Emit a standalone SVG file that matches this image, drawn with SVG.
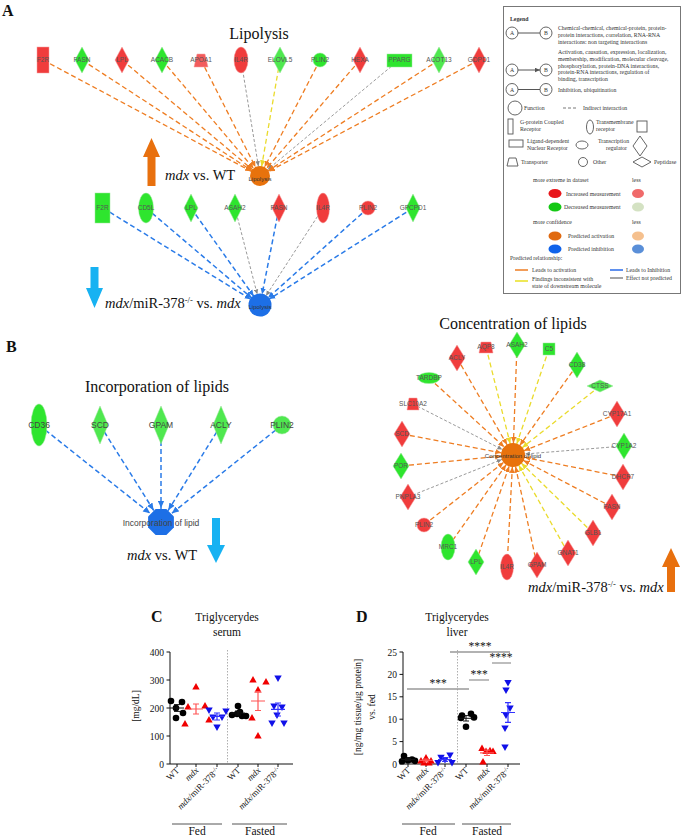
<svg xmlns="http://www.w3.org/2000/svg" xmlns:xlink="http://www.w3.org/1999/xlink" width="685" height="837" viewBox="0 0 685 837">
<style>
.serif{font-family:"Liberation Serif","Times New Roman",serif;fill:#111}
.pl{font-family:"Liberation Serif",serif;font-weight:bold;font-size:16px;fill:#111}
.ttl{font-family:"Liberation Serif",serif;font-size:16px;fill:#111}
.cmp{font-family:"Liberation Serif",serif;font-size:14.5px;fill:#111}
.nl{font-family:"Liberation Sans",Arial,sans-serif;font-size:6.5px;fill:#555;text-anchor:middle}
.nlb{font-family:"Liberation Sans",Arial,sans-serif;font-size:8.5px;fill:#444;text-anchor:middle}
.hl{font-family:"Liberation Sans",Arial,sans-serif;font-size:6px;fill:#333;text-anchor:middle}
.red{fill:#f03c3c;stroke:#f6a0a0;stroke-width:0.5}
.red2{fill:#f25c5c;stroke:#f6a0a0;stroke-width:0.5}
.grn{fill:#2ee52e;stroke:#9be89b;stroke-width:0.5}
.grn2{fill:#4fe84f;stroke:#9be89b;stroke-width:0.5}
.eo{stroke:#ee7d22;stroke-width:1.3;stroke-dasharray:5 3;fill:none}
.ey{stroke:#eadb2c;stroke-width:1.3;stroke-dasharray:5 3;fill:none}
.eg{stroke:#9a9a9a;stroke-width:1;stroke-dasharray:3 2;fill:none}
.eb{stroke:#2a7be8;stroke-width:1.5;stroke-dasharray:5 3;fill:none}
.lg{font-family:"Liberation Serif",serif;font-size:5.8px;fill:#333}
.lgs{fill:#fff;stroke:#555;stroke-width:0.9}
.ax{stroke:#111;stroke-width:1;fill:none}
.tk{font-family:"Liberation Serif",serif;font-size:9.5px;fill:#111}
.xl{font-family:"Liberation Serif",serif;font-size:9px;fill:#111;text-anchor:end}
.ct{font-family:"Liberation Serif",serif;font-size:11.5px;fill:#111;text-anchor:middle}
.grp{stroke:#555;stroke-width:1}
.sig{stroke:#999;stroke-width:1.3}
</style>
<defs>
<marker id="aO10" viewBox="0 0 10 10" markerUnits="userSpaceOnUse" markerWidth="6" markerHeight="6" refX="26.7" refY="5" orient="auto"><path d="M0,0.5L10,5L0,9.5z" fill="#ee7d22"/></marker>
<marker id="aY10" viewBox="0 0 10 10" markerUnits="userSpaceOnUse" markerWidth="6" markerHeight="6" refX="26.7" refY="5" orient="auto"><path d="M0,0.5L10,5L0,9.5z" fill="#eadb2c"/></marker>
<marker id="aG10" viewBox="0 0 10 10" markerUnits="userSpaceOnUse" markerWidth="5" markerHeight="5" refX="30" refY="5" orient="auto"><path d="M0,0.5L10,5L0,9.5z" fill="#888"/></marker>
<marker id="aB11" viewBox="0 0 10 10" markerUnits="userSpaceOnUse" markerWidth="6" markerHeight="6" refX="28.3" refY="5" orient="auto"><path d="M0,0.5L10,5L0,9.5z" fill="#2a7be8"/></marker>
<marker id="aG11" viewBox="0 0 10 10" markerUnits="userSpaceOnUse" markerWidth="5" markerHeight="5" refX="32" refY="5" orient="auto"><path d="M0,0.5L10,5L0,9.5z" fill="#888"/></marker>
<marker id="aB14" viewBox="0 0 10 10" markerUnits="userSpaceOnUse" markerWidth="7" markerHeight="7" refX="30" refY="5" orient="auto"><path d="M0,0.5L10,5L0,9.5z" fill="#2a7be8"/></marker>
<marker id="aO12" viewBox="0 0 10 10" markerUnits="userSpaceOnUse" markerWidth="6" markerHeight="6" refX="30" refY="5" orient="auto"><path d="M0,0.5L10,5L0,9.5z" fill="#ee7d22"/></marker>
<marker id="aY12" viewBox="0 0 10 10" markerUnits="userSpaceOnUse" markerWidth="6" markerHeight="6" refX="30" refY="5" orient="auto"><path d="M0,0.5L10,5L0,9.5z" fill="#eadb2c"/></marker>
<marker id="aG12" viewBox="0 0 10 10" markerUnits="userSpaceOnUse" markerWidth="5" markerHeight="5" refX="34" refY="5" orient="auto"><path d="M0,0.5L10,5L0,9.5z" fill="#888"/></marker>
<marker id="lgA" viewBox="0 0 10 10" markerUnits="userSpaceOnUse" markerWidth="5" markerHeight="5" refX="10" refY="5" orient="auto"><path d="M0,0.5L10,5L0,9.5z" fill="#555"/></marker>
<circle id="dot" r="3.3"/>
<path id="tu" d="M0,-3.9L3.7,2.6L-3.7,2.6Z"/>
<path id="td" d="M0,3.9L3.7,-2.6L-3.7,-2.6Z"/>
</defs>
<rect width="685" height="837" fill="#fff"/>

<!-- Panel labels and titles -->
<text class="pl" x="2" y="16">A</text>
<text class="pl" x="6" y="352">B</text>
<text class="pl" x="151" y="622" font-size="17">C</text>
<text class="pl" x="356" y="622" font-size="17">D</text>
<text class="ttl" x="259" y="39" text-anchor="middle">Lipolysis</text>
<text class="ttl" x="157" y="392" text-anchor="middle" font-size="16.5">Incorporation of lipids</text>
<text class="ttl" x="513" y="329" text-anchor="middle">Concentration of lipids</text>

<!-- Big arrows & comparison labels -->
<path d="M143,157L151.5,138L160,157L155.5,157L155.5,186L147.5,186L147.5,157Z" fill="#e8700e"/>
<text class="cmp" x="165" y="180"><tspan font-style="italic">mdx</tspan> vs. WT</text>
<path d="M90.5,267L98.5,267L98.5,288L103,288L94.5,308L86,288L90.5,288Z" fill="#17b2f2"/>
<text class="cmp" x="105" y="308"><tspan font-style="italic">mdx</tspan>/miR-378<tspan baseline-shift="super" font-size="8.5">-/-</tspan> vs. <tspan font-style="italic">mdx</tspan></text>
<path d="M212,518L220,518L220,545L225,545L216,563L207,545L212,545Z" fill="#17b2f2"/>
<text class="cmp" x="127" y="560"><tspan font-style="italic">mdx</tspan> vs. WT</text>
<path d="M662,567L671,548L680,567L675,567L675,592L667,592L667,567Z" fill="#e8700e"/>
<text class="cmp" x="528" y="592"><tspan font-style="italic">mdx</tspan>/miR-378<tspan baseline-shift="super" font-size="8.5">-/-</tspan> vs. <tspan font-style="italic">mdx</tspan></text>

<!-- Connectors -->
<g id="connectors">
 <g id="edges-lipolysis-mdx">
  <line class="eo" x1="43" y1="60" x2="260" y2="176" marker-end="url(#aO10)"/>
  <line class="eo" x1="82" y1="60" x2="260" y2="176" marker-end="url(#aO10)"/>
  <line class="eo" x1="122" y1="60" x2="260" y2="176" marker-end="url(#aO10)"/>
  <line class="eo" x1="162" y1="60" x2="260" y2="176" marker-end="url(#aO10)"/>
  <line class="eo" x1="201" y1="60" x2="260" y2="176" marker-end="url(#aO10)"/>
  <line class="eg" x1="241" y1="60" x2="260" y2="176" marker-end="url(#aG10)"/>
  <line class="ey" x1="280" y1="60" x2="260" y2="176" marker-end="url(#aY10)"/>
  <line class="eo" x1="320" y1="60" x2="260" y2="176" marker-end="url(#aO10)"/>
  <line class="eo" x1="360" y1="60" x2="260" y2="176" marker-end="url(#aO10)"/>
  <line class="eg" x1="399" y1="60" x2="260" y2="176" marker-end="url(#aG10)"/>
  <line class="eo" x1="439" y1="60" x2="260" y2="176" marker-end="url(#aO10)"/>
  <line class="eo" x1="479" y1="60" x2="260" y2="176" marker-end="url(#aO10)"/>
 </g>
 <g id="edges-lipolysis-mir">
  <line class="eb" x1="103" y1="208" x2="260" y2="305" marker-end="url(#aB11)"/>
  <line class="eb" x1="146" y1="208" x2="260" y2="305" marker-end="url(#aB11)"/>
  <line class="eb" x1="191" y1="208" x2="260" y2="305" marker-end="url(#aB11)"/>
  <line class="eg" x1="235" y1="208" x2="260" y2="305" marker-end="url(#aG11)"/>
  <line class="eb" x1="279" y1="208" x2="260" y2="305" marker-end="url(#aB11)"/>
  <line class="eg" x1="323" y1="208" x2="260" y2="305" marker-end="url(#aG11)"/>
  <line class="eb" x1="368" y1="208" x2="260" y2="305" marker-end="url(#aB11)"/>
  <line class="eb" x1="413" y1="208" x2="260" y2="305" marker-end="url(#aB11)"/>
 </g>
 <g id="edges-incorporation">
  <line class="eb" x1="39" y1="425" x2="161" y2="522" marker-end="url(#aB14)"/>
  <line class="eb" x1="100" y1="425" x2="161" y2="522" marker-end="url(#aB14)"/>
  <line class="eb" x1="161" y1="425" x2="161" y2="522" marker-end="url(#aB14)"/>
  <line class="eb" x1="221" y1="425" x2="161" y2="522" marker-end="url(#aB14)"/>
  <line class="eb" x1="282" y1="425" x2="161" y2="522" marker-end="url(#aB14)"/>
 </g>
 <g id="edges-concentration">
  <line class="eo" x1="517" y1="345" x2="513" y2="455" marker-end="url(#aO12)"/>
  <line class="ey" x1="486" y1="347" x2="513" y2="455" marker-end="url(#aY12)"/>
  <line class="eo" x1="457" y1="358" x2="513" y2="455" marker-end="url(#aO12)"/>
  <line class="ey" x1="549" y1="349" x2="513" y2="455" marker-end="url(#aY12)"/>
  <line class="eo" x1="577" y1="365" x2="513" y2="455" marker-end="url(#aO12)"/>
  <line class="eo" x1="429" y1="378" x2="513" y2="455" marker-end="url(#aO12)"/>
  <line class="ey" x1="600" y1="386" x2="513" y2="455" marker-end="url(#aY12)"/>
  <line class="eg" x1="413" y1="404" x2="513" y2="455" marker-end="url(#aG12)"/>
  <line class="eo" x1="617" y1="414" x2="513" y2="455" marker-end="url(#aO12)"/>
  <line class="eo" x1="402" y1="434" x2="513" y2="455" marker-end="url(#aO12)"/>
  <line class="eg" x1="624" y1="446" x2="513" y2="455" marker-end="url(#aG12)"/>
  <line class="eo" x1="401" y1="466" x2="513" y2="455" marker-end="url(#aO12)"/>
  <line class="eo" x1="623" y1="477" x2="513" y2="455" marker-end="url(#aO12)"/>
  <line class="eg" x1="408" y1="497" x2="513" y2="455" marker-end="url(#aG12)"/>
  <line class="eo" x1="612" y1="507" x2="513" y2="455" marker-end="url(#aO12)"/>
  <line class="eo" x1="424" y1="525" x2="513" y2="455" marker-end="url(#aO12)"/>
  <line class="ey" x1="593" y1="533" x2="513" y2="455" marker-end="url(#aY12)"/>
  <line class="eo" x1="448" y1="547" x2="513" y2="455" marker-end="url(#aO12)"/>
  <line class="ey" x1="568" y1="553" x2="513" y2="455" marker-end="url(#aY12)"/>
  <line class="eo" x1="476" y1="562" x2="513" y2="455" marker-end="url(#aO12)"/>
  <line class="eo" x1="537" y1="565" x2="513" y2="455" marker-end="url(#aO12)"/>
  <line class="eo" x1="507" y1="567" x2="513" y2="455" marker-end="url(#aO12)"/>
 </g>
</g>

<!-- Lipolysis (mdx vs WT) nodes -->
<g id="a1-F2R"><rect class="red" x="37" y="47" width="12" height="26"/><text class="nl" x="43" y="62">F2R</text></g>
<g id="a1-FASN"><path class="grn" d="M82,47L89,60L82,73L75,60Z"/><text class="nl" x="82" y="62">FASN</text></g>
<g id="a1-LPL"><path class="red" d="M122,47L129,60L122,73L115,60Z"/><text class="nl" x="122" y="62">LPL</text></g>
<g id="a1-ACACB"><path class="grn" d="M162,47L169,60L162,73L155,60Z"/><text class="nl" x="162" y="62">ACACB</text></g>
<g id="a1-APOA1"><path class="red2" d="M197,54L205,54L208,67L194,67Z"/><text class="nl" x="201" y="62">APOA1</text></g>
<g id="a1-IL4R"><ellipse class="red" cx="241" cy="60" rx="7" ry="13"/><text class="nl" x="241" y="62">IL4R</text></g>
<g id="a1-ELOVL5"><path class="grn2" d="M280,47L287,60L280,73L273,60Z"/><text class="nl" x="280" y="62">ELOVL5</text></g>
<g id="a1-PLIN2"><circle class="grn" cx="320" cy="60" r="7"/><text class="nl" x="320" y="62">PLIN2</text></g>
<g id="a1-HEXA"><path class="red" d="M360,47L367,60L360,73L353,60Z"/><text class="nl" x="360" y="62">HEXA</text></g>
<g id="a1-PPARG"><rect class="grn" x="387" y="54" width="25" height="13" stroke="#aaa"/><text class="nl" x="399.5" y="62">PPARG</text></g>
<g id="a1-ACOT13"><path class="grn2" d="M439,47L446,60L439,73L432,60Z"/><text class="nl" x="439" y="62">ACOT13</text></g>
<g id="a1-GDPD1"><path class="red" d="M479,47L486,60L479,73L472,60Z"/><text class="nl" x="479" y="62">GDPD1</text></g>
<g id="a1-Lipolysis"><circle cx="260" cy="176" r="10" fill="#e8720c"/><text class="hl" x="260" y="181">Lipolysis</text></g>

<!-- Lipolysis (mdx/miR vs mdx) nodes -->
<g id="a2-F2R"><rect class="grn" x="95" y="193" width="15" height="30"/><text class="nl" x="102.5" y="210">F2R</text></g>
<g id="a2-CD5L"><ellipse class="grn" cx="146" cy="208" rx="7.5" ry="15"/><text class="nl" x="146" y="210">CD5L</text></g>
<g id="a2-LPL"><path class="grn" d="M191,194L198,208L191,222L184,208Z"/><text class="nl" x="191" y="210">LPL</text></g>
<g id="a2-ASAH2"><path class="grn" d="M235,194L242,208L235,222L228,208Z"/><text class="nl" x="235" y="210">ASAH2</text></g>
<g id="a2-FASN"><path class="red" d="M279,194L286,208L279,222L272,208Z"/><text class="nl" x="279" y="210">FASN</text></g>
<g id="a2-IL4R"><ellipse class="red" cx="323" cy="208" rx="6.5" ry="15"/><text class="nl" x="323" y="210">IL4R</text></g>
<g id="a2-PLIN2"><circle class="red" cx="368" cy="208" r="7"/><text class="nl" x="368" y="210">PLIN2</text></g>
<g id="a2-GPCPD1"><path class="grn" d="M413,194L420,208L413,222L406,208Z"/><text class="nl" x="413" y="210">GPCPD1</text></g>
<g id="a2-Lipolysis"><circle cx="260" cy="305" r="11.5" fill="#1d6fe6"/><text class="hl" x="260" y="309">Lipolysis</text></g>

<!-- Incorporation of lipids -->
<g id="b1-CD36"><ellipse class="grn" cx="39" cy="425" rx="8" ry="21"/><text class="nlb" x="39" y="428">CD36</text></g>
<g id="b1-SCD"><path class="grn2" d="M100,406L108,425L100,444L92,425Z"/><text class="nlb" x="100" y="428">SCD</text></g>
<g id="b1-GPAM"><path class="grn2" d="M161,406L169,425L161,444L153,425Z"/><text class="nlb" x="161" y="428">GPAM</text></g>
<g id="b1-ACLY"><path class="grn2" d="M221,406L229,425L221,444L213,425Z"/><text class="nlb" x="221" y="428">ACLY</text></g>
<g id="b1-PLIN2"><circle class="grn2" cx="282" cy="425" r="9"/><text class="nlb" x="282" y="428">PLIN2</text></g>
<g id="b1-Incorporation"><polygon points="173.9,516.6 173.9,527.4 166.4,534.9 155.6,534.9 148.1,527.4 148.1,516.6 155.6,509.1 166.4,509.1" fill="#1d6fe6"/><text class="nlb" x="161" y="526" font-size="7.5">Incorporation of lipid</text></g>

<!-- Concentration of lipids -->
<g id="b2-ASAH2"><path class="grn" d="M517,332L525,345L517,358L509,345Z"/><text class="nl" x="517" y="347">ASAH2</text></g>
<g id="b2-AQP8"><path class="red" d="M481,342L491,342L493,353L479,353Z"/><text class="nl" x="486" y="349">AQP8</text></g>
<g id="b2-ACLY"><path class="red" d="M457,345L465,358L457,371L449,358Z"/><text class="nl" x="457" y="360">ACLY</text></g>
<g id="b2-C5"><rect class="grn" x="543" y="343" width="12" height="12"/><text class="nl" x="549" y="351">C5</text></g>
<g id="b2-CD38"><path class="grn" d="M577,352L585,365L577,378L569,365Z"/><text class="nl" x="577" y="367">CD38</text></g>
<g id="b2-TARDBP"><ellipse class="grn" cx="429" cy="378" rx="11" ry="5.5"/><text class="nl" x="429" y="380">TARDBP</text></g>
<g id="b2-CTSS"><path class="grn2" d="M587,386L600,380L613,386L600,392Z"/><text class="nl" x="600" y="388">CTSS</text></g>
<g id="b2-SLC10A2"><path class="red" d="M409,398L417,398L419,410L407,410Z"/><text class="nl" x="413" y="406">SLC10A2</text></g>
<g id="b2-CYP17A1"><path class="red" d="M617,401L625,414L617,427L609,414Z"/><text class="nl" x="617" y="416">CYP17A1</text></g>
<g id="b2-SCD"><path class="red" d="M402,421L410,434L402,447L394,434Z"/><text class="nl" x="402" y="436">SCD</text></g>
<g id="b2-CYP1A2"><path class="grn" d="M624,433L632,446L624,459L616,446Z"/><text class="nl" x="624" y="448">CYP1A2</text></g>
<g id="b2-POR"><path class="grn" d="M401,453L409,466L401,479L393,466Z"/><text class="nl" x="401" y="468">POR</text></g>
<g id="b2-DHCR7"><path class="red" d="M623,464L631,477L623,490L615,477Z"/><text class="nl" x="623" y="479">DHCR7</text></g>
<g id="b2-PNPLA3"><path class="red" d="M408,484L416,497L408,510L400,497Z"/><text class="nl" x="408" y="499">PNPLA3</text></g>
<g id="b2-FASN"><path class="red" d="M612,494L620,507L612,520L604,507Z"/><text class="nl" x="612" y="509">FASN</text></g>
<g id="b2-PLIN2"><circle class="red" cx="424" cy="525" r="7"/><text class="nl" x="424" y="527">PLIN2</text></g>
<g id="b2-GLB1"><path class="red" d="M593,520L601,533L593,546L585,533Z"/><text class="nl" x="593" y="535">GLB1</text></g>
<g id="b2-MRC1"><ellipse class="grn" cx="448" cy="547" rx="7" ry="13"/><text class="nl" x="448" y="549">MRC1</text></g>
<g id="b2-GNAT1"><path class="red" d="M568,540L576,553L568,566L560,553Z"/><text class="nl" x="568" y="555">GNAT1</text></g>
<g id="b2-LPL"><path class="grn" d="M476,549L484,562L476,575L468,562Z"/><text class="nl" x="476" y="564">LPL</text></g>
<g id="b2-GPAM"><path class="red" d="M537,552L545,565L537,578L529,565Z"/><text class="nl" x="537" y="567">GPAM</text></g>
<g id="b2-IL4R"><ellipse class="red" cx="507" cy="567" rx="6.5" ry="13"/><text class="nl" x="507" y="569">IL4R</text></g>
<g id="b2-Concentration"><circle cx="513" cy="455" r="12" fill="#e8720c"/><text class="hl" x="513" y="458" font-size="6.5">Concentration of lipid</text></g>

<!-- Legend -->
<g id="legend">
 <rect x="503.5" y="6.5" width="177" height="287" fill="#fff" stroke="#777" stroke-width="1"/>
 <text class="lg" x="510" y="21" font-weight="bold" font-size="7">Legend</text>
 <line x1="518" y1="33" x2="540" y2="33" stroke="#555"/>
 <circle class="lgs" cx="512" cy="33" r="6"/><circle class="lgs" cx="546" cy="33" r="6"/>
 <text class="lg" x="512" y="35.2" text-anchor="middle">A</text><text class="lg" x="546" y="35.2" text-anchor="middle">B</text>
 <text class="lg" x="558" y="30">Chemical-chemical, chemical-protein, protein-</text>
 <text class="lg" x="558" y="37">protein interactions, correlation, RNA-RNA</text>
 <text class="lg" x="558" y="44">interactions: non targeting interactions</text>
 <line x1="518" y1="70" x2="540" y2="70" stroke="#555" marker-end="url(#lgA)"/>
 <circle class="lgs" cx="512" cy="70" r="6"/><circle class="lgs" cx="546" cy="70" r="6"/>
 <text class="lg" x="512" y="72.2" text-anchor="middle">A</text><text class="lg" x="546" y="72.2" text-anchor="middle">B</text>
 <text class="lg" x="558" y="54">Activation, causation, expression, localization,</text>
 <text class="lg" x="558" y="61">membership, modification, molecular cleavage,</text>
 <text class="lg" x="558" y="67.5">phosphorylation, protein-DNA interactions,</text>
 <text class="lg" x="558" y="74">protein-RNA interactions, regulation of</text>
 <text class="lg" x="558" y="80.5">binding, transcription</text>
 <line x1="518" y1="89.5" x2="540" y2="89.5" stroke="#555"/>
 <circle class="lgs" cx="512" cy="89.5" r="6"/><circle class="lgs" cx="546" cy="89.5" r="6"/>
 <text class="lg" x="512" y="91.7" text-anchor="middle">A</text><text class="lg" x="546" y="91.7" text-anchor="middle">B</text>
 <text class="lg" x="558" y="91.5">Inhibition, ubiquitination</text>
 <circle class="lgs" cx="515" cy="108" r="7"/>
 <text class="lg" x="524" y="110">Function</text>
 <line x1="563" y1="108" x2="578" y2="108" stroke="#555" stroke-width="0.8" stroke-dasharray="3 2"/>
 <text class="lg" x="583" y="110">Indirect interaction</text>
 <rect class="lgs" x="508" y="119" width="5" height="15"/>
 <text class="lg" x="520" y="124">G-protein Coupled</text><text class="lg" x="520" y="131">Receptor</text>
 <ellipse class="lgs" cx="590" cy="127" rx="3.5" ry="7"/>
 <text class="lg" x="596" y="124">Transmembrane</text><text class="lg" x="596" y="131">receptor</text>
 <rect class="lgs" x="637" y="121" width="10" height="11"/>
 <rect class="lgs" x="509" y="140" width="14" height="7"/>
 <text class="lg" x="527" y="143">Ligand-dependent</text><text class="lg" x="527" y="150">Nuclear Receptor</text>
 <ellipse class="lgs" cx="582" cy="145" rx="6" ry="4"/>
 <text class="lg" x="598" y="143">Transcription</text><text class="lg" x="606" y="150">regulator</text>
 <path class="lgs" d="M640,136L647,146L640,156L633,146Z"/>
 <path class="lgs" d="M507,166L509,158L516,158L518,166Z"/>
 <text class="lg" x="521" y="164">Transporter</text>
 <circle class="lgs" cx="583" cy="162" r="4.5"/>
 <text class="lg" x="593" y="164">Other</text>
 <path class="lgs" d="M633,162L642,157L651,162L642,167Z"/>
 <text class="lg" x="654" y="164">Peptidase</text>
 <text class="lg" x="533" y="182">more extreme in dataset</text><text class="lg" x="632" y="182">less</text>
 <ellipse cx="555" cy="193.5" rx="6.5" ry="4.5" fill="#e8161b"/>
 <text class="lg" x="566" y="196">Increased measurement</text>
 <ellipse cx="638" cy="193.5" rx="6" ry="4.5" fill="#f06a6a"/>
 <ellipse cx="555" cy="207" rx="6.5" ry="4.5" fill="#14c814"/>
 <text class="lg" x="564" y="209">Decreased measurement</text>
 <ellipse cx="638" cy="207" rx="6" ry="4.5" fill="#d4e2c3"/>
 <text class="lg" x="533" y="224">more confidence</text><text class="lg" x="632" y="224">less</text>
 <ellipse cx="555" cy="236" rx="6.5" ry="4.5" fill="#e06a10"/>
 <text class="lg" x="568" y="238">Predicted activation</text>
 <ellipse cx="638" cy="236" rx="6" ry="4.5" fill="#f5c08e"/>
 <ellipse cx="555" cy="249" rx="6.5" ry="4.5" fill="#1063ea"/>
 <text class="lg" x="568" y="251">Predicted inhibition</text>
 <ellipse cx="638" cy="249" rx="6" ry="4.5" fill="#5a8fd8"/>
 <text class="lg" x="510" y="260">Predicted relationship:</text>
 <line x1="515" y1="270" x2="528" y2="270" stroke="#ee7d22" stroke-width="1.5"/>
 <text class="lg" x="532" y="272">Leads to activation</text>
 <line x1="610" y1="270" x2="623" y2="270" stroke="#2a6be8" stroke-width="1.5"/>
 <text class="lg" x="626" y="272">Leads to Inhibition</text>
 <line x1="515" y1="281" x2="528" y2="281" stroke="#e8e020" stroke-width="1.5"/>
 <text class="lg" x="532" y="281">Findings inconsistent with</text>
 <text class="lg" x="532" y="288">state of downstream molecule</text>
 <line x1="610" y1="278" x2="623" y2="278" stroke="#888" stroke-width="1.5"/>
 <text class="lg" x="626" y="280">Effect not predicted</text>
</g>

<!-- Chart C -->
<g id="chart-C">
 <text class="ct" x="227" y="621">Triglycerydes</text>
 <text class="ct" x="227" y="636">serum</text>
 <path class="ax" d="M170,652V764H293"/>
 <path class="ax" d="M166.5,652H170M166.5,680H170M166.5,708H170M166.5,736H170M166.5,764H170"/>
 <path class="ax" d="M177,764v3M196,764v3M217,764v3M238,764v3M258,764v3M278,764v3"/>
 <text class="tk" x="164" y="655.5" text-anchor="end">400</text>
 <text class="tk" x="164" y="683.5" text-anchor="end">300</text>
 <text class="tk" x="164" y="711.5" text-anchor="end">200</text>
 <text class="tk" x="164" y="739.5" text-anchor="end">100</text>
 <text class="tk" x="164" y="767.5" text-anchor="end">0</text>
 <text class="tk" transform="translate(139,706) rotate(-90)" text-anchor="middle" font-size="10">[mg/dL]</text>
 <line x1="227.5" y1="650" x2="227.5" y2="763" stroke="#999" stroke-width="0.8" stroke-dasharray="1.5 1.5"/>
 <g fill="#000">
  <use href="#dot" x="171" y="701"/><use href="#dot" x="182" y="702"/><use href="#dot" x="176" y="708"/><use href="#dot" x="183" y="713"/><use href="#dot" x="176" y="718"/>
  <path class="ax" d="M170,708H184M177,704.6V711.4M174,704.6H180M174,711.4H180"/>
 </g>
 <g fill="#f00000">
  <use href="#tu" x="196" y="687"/><use href="#tu" x="188" y="707"/><use href="#tu" x="205" y="706"/><use href="#tu" x="185" y="724"/><use href="#tu" x="209" y="720"/>
  <path d="M189,709H203M196,704V714M193,704H199M193,714H199" stroke="#f55" stroke-width="1.2" fill="none"/>
 </g>
 <g fill="#1010e8">
  <use href="#td" x="209" y="710"/><use href="#td" x="226" y="711"/><use href="#td" x="213" y="717"/><use href="#td" x="222" y="717"/><use href="#td" x="217" y="727"/>
  <path d="M210,716.4H224M217,713V720M214,713H220M214,720H220" stroke="#33f" stroke-width="1.2" fill="none"/>
 </g>
 <g fill="#000">
  <use href="#dot" x="238" y="706"/><use href="#dot" x="232" y="715"/><use href="#dot" x="237" y="714"/><use href="#dot" x="242" y="716"/><use href="#dot" x="246" y="716"/><use href="#dot" x="240" y="712"/>
  <path class="ax" d="M231,713H245M238,711V715M235,711H241M235,715H241"/>
 </g>
 <g fill="#f00000">
  <use href="#tu" x="253" y="680"/><use href="#tu" x="266" y="682"/><use href="#tu" x="258" y="690"/><use href="#tu" x="252" y="718"/><use href="#tu" x="258" y="736"/>
  <path d="M251,701H265M258,691.5V710.5M255,691.5H261M255,710.5H261" stroke="#f55" stroke-width="1.2" fill="none"/>
 </g>
 <g fill="#1010e8">
  <use href="#td" x="278" y="678"/><use href="#td" x="274" y="706"/><use href="#td" x="282" y="707"/><use href="#td" x="277" y="715"/><use href="#td" x="272" y="723"/><use href="#td" x="284" y="723"/>
  <path d="M271,709.4H285M278,703V716M275,703H281M275,716H281" stroke="#33f" stroke-width="1.2" fill="none"/>
 </g>
 <text class="xl" transform="translate(180,771) rotate(-45)">WT</text>
 <text class="xl" transform="translate(199,771) rotate(-45)" font-style="italic">mdx</text>
 <text class="xl" transform="translate(220,771) rotate(-45)"><tspan font-style="italic">mdx</tspan>/miR-378<tspan baseline-shift="super" font-size="6">-/-</tspan></text>
 <text class="xl" transform="translate(241,771) rotate(-45)">WT</text>
 <text class="xl" transform="translate(261,771) rotate(-45)" font-style="italic">mdx</text>
 <text class="xl" transform="translate(281,771) rotate(-45)"><tspan font-style="italic">mdx</tspan>/miR-378<tspan baseline-shift="super" font-size="6">-/-</tspan></text>
 <line class="grp" x1="172" y1="824" x2="222" y2="824"/>
 <line class="grp" x1="232" y1="824" x2="287" y2="824"/>
 <text class="ct" x="197" y="835" font-size="11">Fed</text>
 <text class="ct" x="260" y="835" font-size="11">Fasted</text>
</g>

<!-- Chart D -->
<g id="chart-D">
 <text class="ct" x="457" y="621">Triglycerydes</text>
 <text class="ct" x="457" y="636">liver</text>
 <path class="ax" d="M403,652V764H520"/>
 <path class="ax" d="M399.5,652H403M399.5,674.4H403M399.5,696.8H403M399.5,719.2H403M399.5,741.6H403M399.5,764H403"/>
 <path class="ax" d="M408,764v3M426,764v3M445,764v3M466,764v3M487,764v3M508,764v3"/>
 <text class="tk" x="397" y="655.5" text-anchor="end">25</text>
 <text class="tk" x="397" y="677.9" text-anchor="end">20</text>
 <text class="tk" x="397" y="700.3" text-anchor="end">15</text>
 <text class="tk" x="397" y="722.7" text-anchor="end">10</text>
 <text class="tk" x="397" y="745.1" text-anchor="end">5</text>
 <text class="tk" x="397" y="767.5" text-anchor="end">0</text>
 <text class="tk" transform="translate(361,707) rotate(-90)" text-anchor="middle" font-size="9.5">[ng/mg tissue/μg protein]</text>
 <text class="tk" transform="translate(375,707) rotate(-90)" text-anchor="middle" font-size="9.5">vs. fed</text>
 <line x1="457.5" y1="650" x2="457.5" y2="763" stroke="#999" stroke-width="0.8" stroke-dasharray="1.5 1.5"/>
 <line class="sig" x1="450" y1="652" x2="510" y2="652"/>
 <text class="ct" x="480" y="650" font-size="10">****</text>
 <line class="sig" x1="492" y1="663" x2="511" y2="663"/>
 <text class="ct" x="501" y="661" font-size="10">****</text>
 <line class="sig" x1="469" y1="680" x2="489" y2="680"/>
 <text class="ct" x="479" y="678" font-size="10">***</text>
 <line class="sig" x1="407" y1="689" x2="469" y2="689"/>
 <text class="ct" x="438" y="687" font-size="10">***</text>
 <g fill="#000">
  <use href="#dot" x="404" y="756"/><use href="#dot" x="412" y="759.5"/><use href="#dot" x="408" y="760.4"/><use href="#dot" x="415" y="760.9"/><use href="#dot" x="402" y="761.3"/>
  <path class="ax" d="M401,759.5H415M408,758.4V760.6M405,758.4H411M405,760.6H411"/>
 </g>
 <g fill="#f00000">
  <use href="#tu" x="426" y="758"/><use href="#tu" x="421" y="761"/><use href="#tu" x="431" y="761"/><use href="#tu" x="424" y="763"/><use href="#tu" x="429" y="763"/>
  <path d="M419,760.4H433M426,759V762M423,759H429M423,762H429" stroke="#f55" stroke-width="1.2" fill="none"/>
 </g>
 <g fill="#1010e8">
  <use href="#td" x="450" y="755"/><use href="#td" x="441" y="757.3"/><use href="#td" x="445" y="759.5"/><use href="#td" x="438" y="762.7"/><use href="#td" x="452" y="762.7"/>
  <path d="M438,759.5H452M445,757.7V761.3M442,757.7H448M442,761.3H448" stroke="#33f" stroke-width="1.2" fill="none"/>
 </g>
 <g fill="#000">
  <use href="#dot" x="471" y="713.8"/><use href="#dot" x="462" y="715.6"/><use href="#dot" x="474" y="717.4"/><use href="#dot" x="461" y="717.9"/><use href="#dot" x="466" y="726.8"/>
  <path class="ax" d="M459,718.3H473M466,715.6V721M463,715.6H469M463,721H469"/>
 </g>
 <g fill="#f00000">
  <use href="#tu" x="482" y="748.3"/><use href="#tu" x="490" y="750.6"/><use href="#tu" x="486" y="751.5"/><use href="#tu" x="493" y="751.5"/><use href="#tu" x="483" y="761.8"/>
  <path d="M480,752.8H494M487,750.1V755.5M484,750.1H490M484,755.5H490" stroke="#f55" stroke-width="1.2" fill="none"/>
 </g>
 <g fill="#1010e8">
  <use href="#td" x="508" y="682.5"/><use href="#td" x="506" y="690"/><use href="#td" x="510" y="708"/><use href="#td" x="506" y="715"/><use href="#td" x="505" y="728"/><use href="#td" x="505" y="747"/>
  <path d="M501,712.5H515M508,702.6V722.4M505,702.6H511M505,722.4H511" stroke="#33f" stroke-width="1.2" fill="none"/>
 </g>
 <text class="xl" transform="translate(411,771) rotate(-45)">WT</text>
 <text class="xl" transform="translate(429,771) rotate(-45)" font-style="italic">mdx</text>
 <text class="xl" transform="translate(448,771) rotate(-45)"><tspan font-style="italic">mdx</tspan>/miR-378<tspan baseline-shift="super" font-size="6">-/-</tspan></text>
 <text class="xl" transform="translate(469,771) rotate(-45)">WT</text>
 <text class="xl" transform="translate(490,771) rotate(-45)" font-style="italic">mdx</text>
 <text class="xl" transform="translate(511,771) rotate(-45)"><tspan font-style="italic">mdx</tspan>/miR-378<tspan baseline-shift="super" font-size="6">-/-</tspan></text>
 <line class="grp" x1="402" y1="824" x2="455" y2="824"/>
 <line class="grp" x1="462" y1="824" x2="511" y2="824"/>
 <text class="ct" x="428" y="835" font-size="11">Fed</text>
 <text class="ct" x="487" y="835" font-size="11">Fasted</text>
</g>
</svg>
